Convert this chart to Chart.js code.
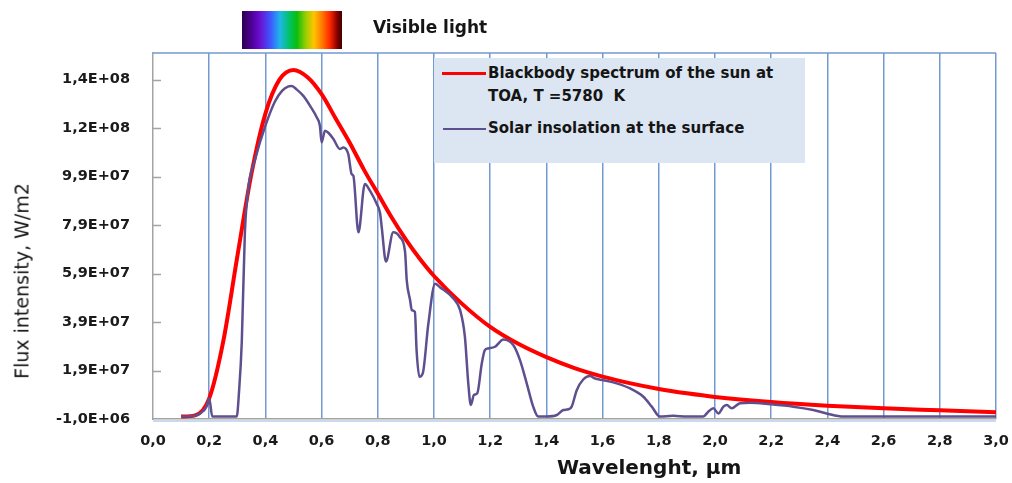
<!DOCTYPE html>
<html>
<head>
<meta charset="utf-8">
<script src="https://cdn.jsdelivr.net/npm/chart.js@4.4.1/dist/chart.umd.min.js"></script>
<style>
  body { margin: 0; background: #fff; }
  #wrap { position: relative; width: 1012px; height: 483px; overflow: hidden; }
  #chart { position: absolute; left: 0; top: 0; }
  .txt { position: absolute; font-family: "DejaVu Sans", sans-serif; color: #151515; white-space: pre; line-height: 1; }
  #spectrum { position: absolute; left: 242px; top: 11px; width: 100px; height: 38px;
    background: linear-gradient(to right, #2c004f 0%, #4b0092 9%, #6a0fd0 18%, #3d5bff 29%, #1fb6e8 38%, #00c26a 47%, #0dbd0d 55%, #9ccf00 64%, #ffc400 72%, #ff7a00 80%, #ff2600 88%, #8a0000 95%, #3a0000 100%); }
  #legend { position: absolute; left: 434px; top: 58px; width: 371px; height: 105px; background: #dce6f2; }
  .lline { position: absolute; }
</style>
</head>
<body>
<div id="wrap">
  <canvas id="chart" width="1012" height="483"></canvas>
  <div id="spectrum"></div>
  <div class="txt" style="left:373px; top:19px; font-size:17px; font-weight:bold;">Visible light</div>
  <div id="legend"></div>
  <div class="lline" style="left:442px; top:72px; width:44px; height:3px; background:#ff0000;"></div>
  <div class="lline" style="left:443px; top:128px; width:43px; height:2px; background:#5e4f8f;"></div>
  <div class="txt" style="left:488px; top:66px; font-size:15px; font-weight:bold;">Blackbody spectrum of the sun at</div>
  <div class="txt" style="left:488px; top:89px; font-size:15px; font-weight:bold;">TOA, T =5780  K</div>
  <div class="txt" style="left:488px; top:121px; font-size:15px; font-weight:bold;">Solar insolation at the surface</div>
  <div class="txt" style="left:557px; top:457px; font-size:20px; font-weight:bold;">Wavelenght, µm</div>
  <div class="txt" style="left:22px; top:281px; font-size:19px; transform: translate(-50%, -50%) rotate(-90deg);">Flux intensity, W/m2</div>
</div>
<script>
// blackbody curve at TOA
const bbWavelength = [0.10, 0.15, 0.20, 0.25, 0.30, 0.35, 0.40, 0.45, 0.50, 0.55, 0.60, 0.65, 0.70, 0.75, 0.80, 0.85, 0.90, 0.95, 1.00,
  1.1, 1.2, 1.3, 1.4, 1.5, 1.6, 1.7, 1.8, 1.9, 2.0, 2.2, 2.4, 2.6, 2.8, 3.0];
const bbFlux = [0, 5e5, 7.5e6, 3.1e7, 6.6e7, 1.0e8, 1.25e8, 1.39e8, 1.43e8, 1.40e8, 1.33e8, 1.23e8, 1.13e8, 1.02e8, 9.2e7, 8.2e7, 7.3e7, 6.5e7, 5.8e7,
  4.65e7, 3.7e7, 3.0e7, 2.45e7, 2.0e7, 1.65e7, 1.37e7, 1.14e7, 9.6e6, 8.1e6, 6.0e6, 4.5e6, 3.4e6, 2.6e6, 1.8e6];

// solar insolation at the surface
const surfWavelength = [0.10, 0.15, 0.17, 0.19, 0.20, 0.211, 0.298, 0.306, 0.316, 0.327, 0.339, 0.363, 0.40, 0.434, 0.46, 0.482, 0.494,
  0.511, 0.535, 0.559, 0.583, 0.594, 0.600, 0.612, 0.625, 0.642, 0.665, 0.677, 0.695, 0.707, 0.713, 0.731, 0.754, 0.772, 0.796,
  0.808, 0.814, 0.829, 0.855, 0.879, 0.897, 0.903, 0.915, 0.921, 0.932, 0.938, 0.948, 0.960, 0.980, 1.004, 1.021, 1.069, 1.093,
  1.110, 1.122, 1.131, 1.142, 1.154, 1.170, 1.181, 1.193, 1.217, 1.247, 1.282, 1.306, 1.330, 1.353, 1.371, 1.401, 1.437, 1.46,
  1.478, 1.49, 1.508, 1.531, 1.555, 1.573, 1.603, 1.650, 1.698, 1.745, 1.775, 1.804, 1.85, 1.90, 1.958, 1.976, 1.994, 2.012,
  2.030, 2.042, 2.059, 2.089, 2.125, 2.196, 2.279, 2.35, 2.397, 2.457, 2.504, 3.0];
const surfFlux = [0, 3e5, 1.5e6, 4e6, 7.6e6, 0, 0, 1.0e7, 3.1e7, 7.6e7, 9.4e7, 1.06e8, 1.2e8, 1.30e8, 1.345e8, 1.362e8, 1.364e8,
  1.35e8, 1.323e8, 1.282e8, 1.234e8, 1.2e8, 1.131e8, 1.179e8, 1.17e8, 1.145e8, 1.104e8, 1.11e8, 1.083e8, 1.0e8, 9.94e7, 7.6e7, 9.6e7, 9.32e7, 8.78e7,
  8.4e7, 7.81e7, 6.4e7, 7.6e7, 7.4e7, 6.8e7, 5.62e7, 4.8e7, 4.39e7, 4.32e7, 2.74e7, 1.64e7, 1.78e7, 3.84e7, 5.48e7, 5.34e7, 4.87e7, 4.39e7,
  3.29e7, 1.37e7, 4.8e6, 8.9e6, 9.6e6, 2.19e7, 2.74e7, 2.81e7, 2.88e7, 3.18e7, 2.95e7, 2.33e7, 1.37e7, 4.1e6, 0, 0, 6.5e5, 2.7e6,
  3.0e6, 4.1e6, 1.09e7, 1.53e7, 1.67e7, 1.57e7, 1.5e7, 1.37e7, 1.16e7, 8.2e6, 4.1e6, 0, 3e5, 0, 0, 2e6, 3.4e6, 1.3e6,
  4.1e6, 4.8e6, 3.4e6, 5.5e6, 5.7e6, 5.1e6, 4.1e6, 2.7e6, 1.3e6, 0, 0, 0];

const yTickValues = [-1e6, 1.9e7, 3.9e7, 5.9e7, 7.9e7, 9.9e7, 1.19e8, 1.39e8];
const yTickLabels = ['-1,0E+06', '1,9E+07', '3,9E+07', '5,9E+07', '7,9E+07', '9,9E+07', '1,2E+08', '1,4E+08'];

function toPoints(xs, ys) {
  return xs.map(function (x, i) { return { x: x, y: ys[i] }; });
}

const gridBlue = '#7399d1';
const axisGray = '#a3a3a3';
const tickFont = { family: 'DejaVu Sans', size: 14.5, weight: 'bold' };

// top border, bottom blue edge and inside tick marks on the value axis
const framePlugin = {
  id: 'frame',
  afterDraw: function (chart) {
    const ctx = chart.ctx;
    const a = chart.chartArea;
    const y = chart.scales.y;
    ctx.save();
    ctx.strokeStyle = gridBlue;
    ctx.lineWidth = 1.5;
    ctx.beginPath();
    ctx.moveTo(a.left, a.top);
    ctx.lineTo(a.right, a.top);
    ctx.stroke();
    ctx.strokeStyle = '#b9cde8';
    ctx.lineWidth = 1.5;
    ctx.beginPath();
    ctx.moveTo(a.left, a.bottom + 2);
    ctx.lineTo(a.right, a.bottom + 2);
    ctx.stroke();
    ctx.strokeStyle = axisGray;
    ctx.lineWidth = 1.5;
    yTickValues.forEach(function (v) {
      const py = Math.round(y.getPixelForValue(v)) + 0.5;
      if (v === yTickValues[0]) return;
      ctx.beginPath();
      ctx.moveTo(a.left, py);
      ctx.lineTo(a.left + 8, py);
      ctx.stroke();
    });
    ctx.restore();
  }
};

new Chart(document.getElementById('chart'), {
  type: 'line',
  data: {
    datasets: [
      {
        label: 'Blackbody spectrum of the sun at TOA, T =5780  K',
        data: toPoints(bbWavelength, bbFlux),
        borderColor: '#ff0000',
        borderWidth: 4,
        pointRadius: 0,
        cubicInterpolationMode: 'monotone',
        order: 1
      },
      {
        label: 'Solar insolation at the surface',
        data: toPoints(surfWavelength, surfFlux),
        borderColor: '#5e4f8f',
        borderWidth: 2.5,
        pointRadius: 0,
        cubicInterpolationMode: 'monotone',
        order: 0
      }
    ]
  },
  options: {
    responsive: false,
    animation: false,
    devicePixelRatio: 1,
    layout: { padding: { top: 53, right: 16, left: 0, bottom: 0 } },
    plugins: { legend: { display: false }, tooltip: { enabled: false } },
    scales: {
      x: {
        type: 'linear',
        min: 0,
        max: 3,
        afterFit: function (s) { s.height = 64; s.paddingRight = 0; s.paddingLeft = 0; },
        ticks: {
          stepSize: 0.2,
          padding: 14,
          color: '#1a1a1a',
          font: tickFont,
          callback: function (v) { return v.toFixed(1).replace('.', ','); }
        },
        grid: {
          drawTicks: false,
          lineWidth: 1.5,
          color: function (c) { return c.tick && c.tick.value === 0 ? 'rgba(0,0,0,0)' : gridBlue; }
        },
        border: { color: axisGray, width: 1.5 }
      },
      y: {
        type: 'linear',
        min: -1e6,
        max: 1.5e8,
        afterFit: function (s) { s.width = 153; s.paddingTop = 0; s.paddingBottom = 0; },
        afterBuildTicks: function (s) {
          s.ticks = yTickValues.map(function (v) { return { value: v }; });
        },
        ticks: {
          padding: 23,
          color: '#1a1a1a',
          font: tickFont,
          callback: function (v, i) { return yTickLabels[i]; }
        },
        grid: { display: false, drawTicks: false },
        border: { color: axisGray, width: 1.5 }
      }
    }
  },
  plugins: [framePlugin]
});
</script>
</body>
</html>
